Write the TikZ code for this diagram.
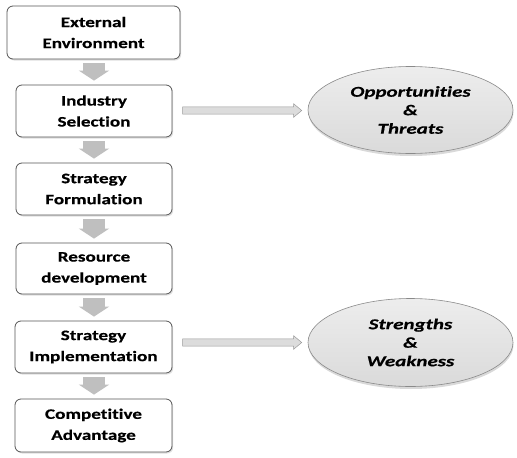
\documentclass[tikz,border=0pt]{standalone}
\usepackage{fontspec}
\setmainfont{Carlito}[FakeStretch=1.32, Ligatures=NoCommon, BoldFeatures={FakeBold=0.4}, BoldItalicFeatures={FakeBold=0.4}]
\newfontfamily\ellfont{Carlito}[FakeStretch=1.4, Ligatures=NoCommon, BoldFeatures={FakeBold=0.4}, BoldItalicFeatures={FakeBold=0.4}]
\usetikzlibrary{arrows.meta,shapes.geometric,shapes.arrows,shadows,calc}
\definecolor{boxline}{HTML}{555555}
\definecolor{downgray}{HTML}{BFBFBF}
\definecolor{hfill}{HTML}{DCDCDC}
\definecolor{hline}{HTML}{9A9A9A}
\definecolor{elltop}{HTML}{EDEDED}
\definecolor{ellbot}{HTML}{DADADA}
\definecolor{ellline}{HTML}{8A8A8A}
\tikzset{
  stepbox/.style={draw=boxline, line width=0.8pt, rounded corners=6pt, fill=white,
    align=center, inner sep=0pt, minimum height=52pt, minimum width=156pt,
    font=\fontsize{14.5}{21}\selectfont\bfseries,
    drop shadow={opacity=0.25, shadow xshift=1.2pt, shadow yshift=-1.5pt}},
  swot/.style={ellipse, draw=ellline, line width=0.6pt, top color=elltop, bottom color=ellbot,
    align=center, inner sep=0pt, minimum width=205pt, minimum height=87pt,
    font=\ellfont\fontsize{15}{18.5}\selectfont\bfseries\itshape,
    drop shadow={opacity=0.3, shadow xshift=0.5pt, shadow yshift=-2.5pt}},
  downarrow/.style={draw=downgray, line width=22pt,
    -{Triangle[width=30pt,length=10pt,fill=downgray]}, shorten <=4pt, shorten >=4pt},
  harrow/.style={single arrow, draw=hline, fill=hfill, line width=0.5pt,
    minimum height=119pt, minimum width=13.5pt, inner sep=3.2pt,
    single arrow head extend=3pt, single arrow tip angle=80}
}
\begin{document}
\begin{tikzpicture}[x=1pt,y=-1pt]
\useasboundingbox (0,0) rectangle (517,458);
\node[stepbox, minimum width=173pt, minimum height=53pt] (b1) at (93.5,32.5) {External\\Environment};
\node[stepbox] (b2) at (94,111) {Industry\\Selection};
\node[stepbox] (b3) at (94,189) {Strategy\\Formulation};
\node[stepbox, minimum height=51pt] (b4) at (94,268.5) {Resource\\development};
\node[stepbox, minimum width=157pt] (b5) at (93.5,347) {Strategy\\Implementation};
\node[stepbox, minimum width=157pt, minimum height=53pt] (b6) at (93.5,425.5) {Competitive\\Advantage};
\node[swot] (e1) at (410.5,110) {Opportunities\\\&\\Threats};
\node[swot, minimum height=88pt] (e2) at (410.5,342.5) {Strengths\\\&\\Weakness};
\draw[downarrow] (b1.south -| b2.south) -- (b2.north);
\draw[downarrow] (b2.south) -- (b3.north);
\draw[downarrow] (b3.south) -- (b4.north);
\draw[downarrow] (b4.south) -- (b5.north -| b4.north);
\draw[downarrow] (b5.south -| b4.south) -- (b6.north -| b4.north);
\node[harrow] (h1) at ($(b2.east)!0.5!(e1.west)$) {};
\node[harrow] (h2) at ($(b5.east |- e2.west)!0.5!(e2.west)$) {};
\end{tikzpicture}
\end{document}
